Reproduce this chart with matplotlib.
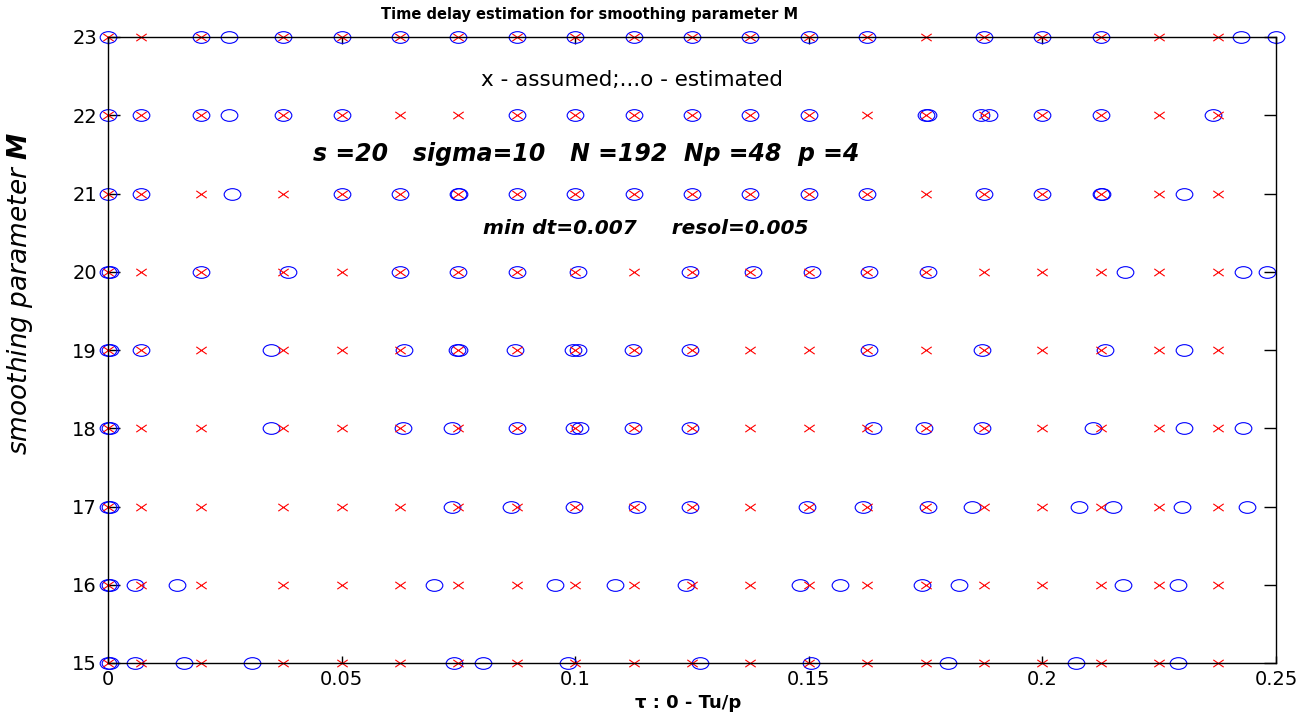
import matplotlib
matplotlib.use('Agg')
import matplotlib.pyplot as plt
import matplotlib.path as mpath
import numpy as np

# assumed delays (same for every M)
assumed = [0, 0.007, 0.02, 0.0375, 0.05, 0.0625, 0.075, 0.0875, 0.1, 0.1125,
           0.125, 0.1375, 0.15, 0.1625, 0.175, 0.1875, 0.2, 0.2125, 0.225, 0.2375]

M_values = [15, 16, 17, 18, 19, 20, 21, 22, 23]

# estimated delays, one list per M
est_15 = [0, 0.0005, 0.0058, 0.0163, 0.0308, 0.0741, 0.0803, 0.0985, 0.1267, 0.1505, 0.1798, 0.2072, 0.229]
est_16 = [0, 0.0005, 0.0058, 0.0147, 0.0698, 0.0957, 0.1085, 0.1237, 0.1481, 0.1567, 0.1742, 0.1822, 0.2173, 0.229]
est_17 = [0, 0.0005, 0.0737, 0.0862, 0.0998, 0.1132, 0.1246, 0.1496, 0.1616, 0.1755, 0.185, 0.2078, 0.2151, 0.2299, 0.2438]
est_18 = [0, 0.0005, 0.0349, 0.0632, 0.0737, 0.0875, 0.0998, 0.101, 0.1124, 0.1246, 0.1637, 0.1747, 0.187, 0.2108, 0.2303, 0.243]
est_19 = [0, 0.0005, 0.007, 0.0349, 0.0634, 0.0747, 0.0752, 0.0871, 0.0995, 0.1006, 0.1124, 0.1246, 0.1629, 0.187, 0.2134, 0.2303]
est_20 = [0, 0.0005, 0.02, 0.0386, 0.0625, 0.075, 0.0875, 0.1006, 0.1246, 0.138, 0.1507, 0.1629, 0.1755, 0.2177, 0.243, 0.248]
est_21 = [0, 0.007, 0.0265, 0.05, 0.0625, 0.075, 0.0752, 0.0875, 0.1, 0.1125, 0.125, 0.1375, 0.15, 0.1625,
          0.1875, 0.2, 0.2125, 0.2128, 0.2303]
est_22 = [0, 0.007, 0.02, 0.026, 0.0375, 0.05, 0.0875, 0.1, 0.1125, 0.125, 0.1375, 0.15, 0.175, 0.1755,
          0.1868, 0.1885, 0.2, 0.2125, 0.2365]
est_23 = [0, 0.02, 0.026, 0.0375, 0.05, 0.0625, 0.075, 0.0875, 0.1, 0.1125, 0.125, 0.1375, 0.15, 0.1625,
          0.1875, 0.2, 0.2125, 0.2425, 0.25]
estimated = [est_15, est_16, est_17, est_18, est_19, est_20, est_21, est_22, est_23]

xticks = [0, 0.05, 0.1, 0.15, 0.2, 0.25]
xticklabels = ['0', '0.05', '0.1', '0.15', '0.2', '0.25']

# squashed markers (the original picture is stretched sideways)
circ = mpath.Path.unit_circle()
ell_marker = mpath.Path(circ.vertices * [1.0, 0.7], circ.codes)
x_marker = mpath.Path([(-1, -0.7), (1, 0.7), (-1, 0.7), (1, -0.7)],
                      [mpath.Path.MOVETO, mpath.Path.LINETO, mpath.Path.MOVETO, mpath.Path.LINETO])

fig = plt.figure(figsize=(13.15, 7.15), dpi=100)
ax = fig.add_axes([108/1315, 52/715, 1168/1315, 626/715])

for m, est in zip(M_values, estimated):
    ax.plot(est, [m]*len(est), linestyle='none', marker=ell_marker, markersize=12,
            markerfacecolor='none', markeredgecolor='blue', markeredgewidth=0.8, clip_on=False)
    ax.plot(assumed, [m]*len(assumed), linestyle='none', marker=x_marker, markersize=7.5,
            markerfacecolor='none', markeredgecolor='red', markeredgewidth=0.8, clip_on=False)

ax.set_xlim(0, 0.25)
ax.set_ylim(15, 23)
ax.set_xticks(xticks)
ax.set_xticklabels(xticklabels)
ax.set_yticks(M_values)
ax.tick_params(axis='both', direction='in', top=True, right=True, labelsize=14, width=1)
ax.tick_params(axis='x', length=5, pad=5)
ax.tick_params(axis='y', length=8.5, pad=8)
for s in ax.spines.values():
    s.set_linewidth(1)

ax.text(0.1122, 22.45, 'x - assumed;...o - estimated', fontsize=15.5, ha='center', va='center')
ax.text(0.1023, 21.5, 's =20   sigma=10   N =192  Np =48  p =4', fontsize=17,
        fontweight='bold', style='italic', ha='center', va='center')
ax.text(0.1152, 20.55, 'min dt=0.007     resol=0.005', fontsize=14.5,
        fontweight='bold', style='italic', ha='center', va='center')

fig.text(590/1315, 1 - 15/715, 'Time delay estimation for smoothing parameter M',
         fontsize=10.5, fontweight='bold', ha='center', va='center')
fig.text(688/1315, 1 - 703/715, '\u03c4 : 0 - Tu/p', fontsize=13, fontweight='bold',
         ha='center', va='center')
plt.rcParams['mathtext.fontset'] = 'dejavusans'
fig.text(20/1315, 1 - 293/715, 'smoothing parameter $\\mathbfit{M}$', fontsize=19, style='italic',
         rotation=90, ha='center', va='center')

fig.savefig('out.png', dpi=100)
